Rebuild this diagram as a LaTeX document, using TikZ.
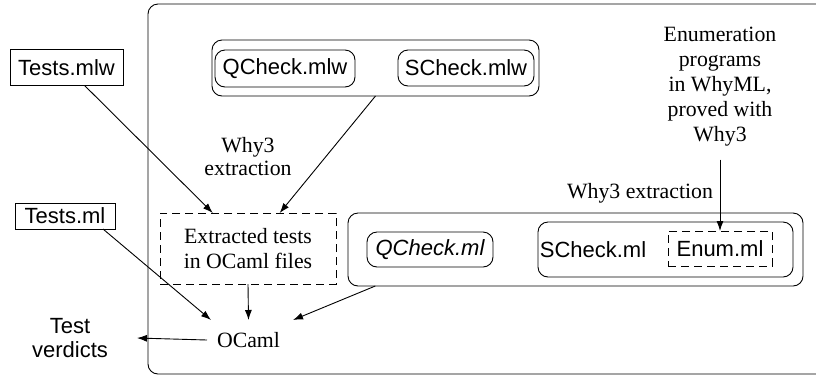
\documentclass[tikz,border=0pt]{standalone}
\usepackage{fontspec}
\setmainfont{Liberation Serif}
\setsansfont{Liberation Sans}
\usetikzlibrary{arrows.meta,calc}
\begin{document}
\begin{tikzpicture}[x=1pt,y=-1pt,
  base/.style={line width=0.9pt, inner sep=0pt, outer sep=0pt},
  sftext/.style={font=\sffamily\fontsize{22}{24}\selectfont},
  rmtext/.style={font=\rmfamily\fontsize{21.8}{25}\selectfont},
  sqbox/.style={base, draw, sftext},
  rbox/.style={base, draw, sftext, rounded corners=10pt},
  dbox/.style={base, draw, dash pattern=on 8pt off 5pt},
  lbl/.style={base, rmtext, align=center},
  arr/.style={line width=0.9pt, -{Latex[length=10pt,width=7pt]}}]
\useasboundingbox (0,0) rectangle (816,376);
\clip (0,0) rectangle (816,376);
% big frame
\draw[base, rounded corners=10pt] (148,4) rectangle (850,374);
% left files
\node[sqbox, minimum width=113pt, minimum height=36pt] (testsmlw) at (66.5,67.5) {Tests.mlw};
\node[sqbox, minimum width=100pt, minimum height=26pt] (testsml) at (65,216) {Tests.ml};
\node[base, sftext, align=center, minimum width=134pt] (verdicts) at (70,338) {Test\\verdicts};
% WhyML libraries
\node[rbox, minimum width=327pt, minimum height=56pt] (qbox) at (375.5,68) {};
\node[rbox, minimum width=140pt, minimum height=37pt] (qcheckmlw) at (285,68.5) {QCheck.mlw};
\node[rbox, minimum width=136pt, minimum height=36pt] (scheckmlw) at (466,68) {SCheck.mlw};
\node[lbl] (why3a) at (248,157) {Why3\\[-2pt]extraction};
\node[lbl] (enumlabel) at (720,87) {Enumeration\\programs\\in WhyML,\\proved with\\Why3};
% extracted tests
\node[dbox, lbl, minimum width=176pt, minimum height=71pt] (extracted) at (248,248.5) {Extracted tests\\in OCaml files};
% OCaml libraries
\node[lbl] (why3b) at (640,193) {Why3 extraction};
\node[rbox, minimum width=455pt, minimum height=73pt] (mlbox) at (575.5,249.5) {};
\node[rbox, minimum width=126pt, minimum height=35pt, font=\sffamily\itshape\fontsize{22}{24}\selectfont] (qcheckml) at (430,249.5) {QCheck.ml};
\node[rbox, minimum width=255pt, minimum height=55pt] (smlbox) at (665.5,249.5) {};
\node[base, sftext] (scheckml) at (593,250) {SCheck.ml};
\node[dbox, sftext, minimum width=104pt, minimum height=35pt] (enumml) at (720,248.5) {Enum.ml};
% OCaml compiler
\node[lbl, minimum width=83pt, minimum height=40pt] (ocaml) at (248.5,340) {OCaml};
% connectors
\draw[arr] (testsmlw) -- ($(extracted.north west)!0.3!(extracted.north east)$);
\draw[arr] (qbox.south) -- ($(extracted.north west)!0.68!(extracted.north east)$);
\draw[arr, shorten <=13pt] (enumlabel.south) -- (enumml.north);
\draw[arr] (extracted.south) -- (ocaml.north);
\draw[arr] ($(testsml.south west)!0.88!(testsml.south east)$) -- ($(ocaml.north west)+(4,0)$);
\draw[arr] ($(mlbox.south west)!0.06!(mlbox.south east)$) -- ($(ocaml.north east)+(3,0)$);
\draw[arr] (ocaml.west) -- (verdicts.east);
\end{tikzpicture}
\end{document}
